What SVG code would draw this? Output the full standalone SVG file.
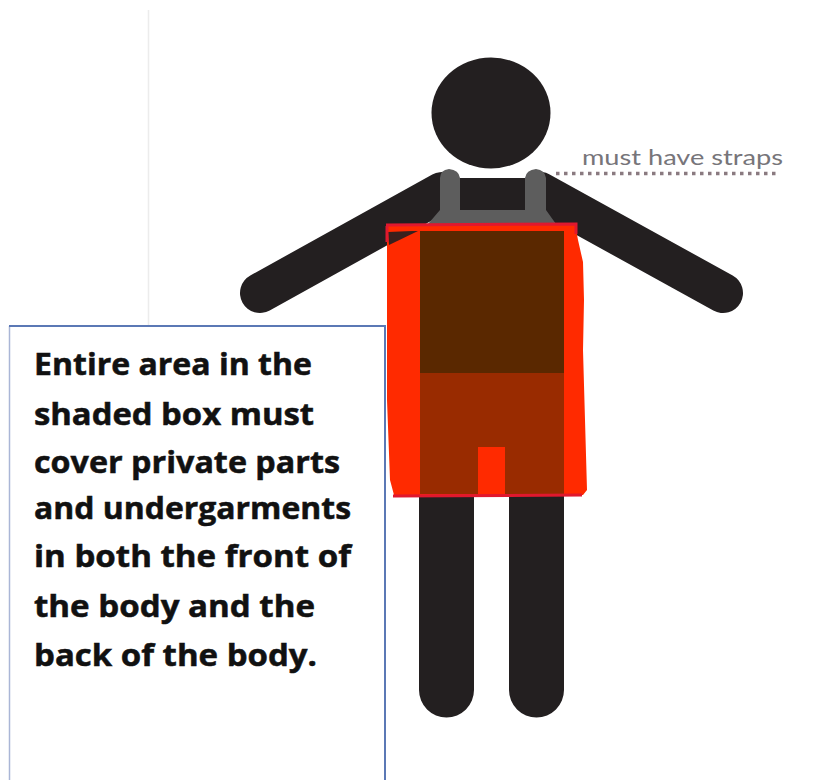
<svg xmlns="http://www.w3.org/2000/svg" width="823" height="780" viewBox="0 0 823 780">
<style>
.b{fill:#231f20}
.l{stroke:#231f20;fill:none;stroke-linecap:round}
.t{font-family:"Open Sans","DejaVu Sans",sans-serif;font-weight:700;font-size:30px;fill:#111;stroke:#111;stroke-width:.5}
</style>
<rect width="823" height="780" fill="#fff"/>
<line x1="148.500" y1="10" x2="148.500" y2="325" stroke="#ececec" stroke-width="1.500"/>
<g id="figure">
<ellipse class="b" cx="491" cy="113" rx="59.500" ry="55.500"/>
<line class="l" x1="442" y1="192" x2="260" y2="293" stroke-width="40"/>
<line class="l" x1="540" y1="192" x2="723" y2="293" stroke-width="40"/>
<rect class="b" x="440" y="178" width="106" height="50"/>
<rect class="b" x="419" y="225" width="145" height="150"/>
<path class="b" d="M419 370H564V690a27.500 27.500 0 0 1-55 0V470H474V690a27.500 27.500 0 0 1-55 0Z"/>
</g>
<g id="straps">
<path fill="#5d5d5d" d="M440 210V178q0-8 9-9q10 1 11 9V210H525V178q1-8 11-9q9 1 10 9V210L556 224H428Z"/>
</g>
<g id="shade">
<path fill="#ff2a00" d="M387 224H575L578 240L583 262L584 300L583 350L585 420L587 490L583 495H394L390 480L387 400Z"/>
<rect x="420" y="231" width="144" height="142" fill="#5a2800"/>
<path fill="#992b00" d="M420 373H564V494H505V447H478V494H420Z"/>
<path fill="#231f20" d="M388 232L412 231L418 231L389 245Z" opacity=".9"/>
<path fill="none" stroke="#e0182e" stroke-width="3" d="M387 226V242M386 225L576 224V234M393 496L582 495"/>
</g>
<g id="callout">
<path fill="#fff" d="M9 326H385V780H9Z"/>
<path fill="none" stroke="#aab6d6" stroke-width="1.500" d="M9.500 780V326"/>
<path fill="none" stroke="#5b78b5" stroke-width="2" d="M9 326H385V780"/>
<g class="t">
<text x="34" y="375" textLength="278" lengthAdjust="spacingAndGlyphs">Entire area in the</text>
<text x="34" y="425" textLength="280" lengthAdjust="spacingAndGlyphs">shaded box must</text>
<text x="34" y="473" textLength="306" lengthAdjust="spacingAndGlyphs">cover private parts</text>
<text x="34" y="519" textLength="317" lengthAdjust="spacingAndGlyphs">and undergarments</text>
<text x="34" y="567" textLength="317" lengthAdjust="spacingAndGlyphs">in both the front of</text>
<text x="34" y="617" textLength="281" lengthAdjust="spacingAndGlyphs">the body and the</text>
<text x="34" y="666" textLength="283" lengthAdjust="spacingAndGlyphs">back of the body.</text>
</g>
</g>
<g id="note">
<text x="582" y="165" font-family="Lato,'Open Sans',sans-serif" font-size="22" fill="#77757a" textLength="201" lengthAdjust="spacingAndGlyphs">must have straps</text>
<line x1="556" y1="173.500" x2="780" y2="173.500" stroke="#8a7a80" stroke-width="3.500" stroke-dasharray="3.500 4.500"/>
</g>
</svg>
